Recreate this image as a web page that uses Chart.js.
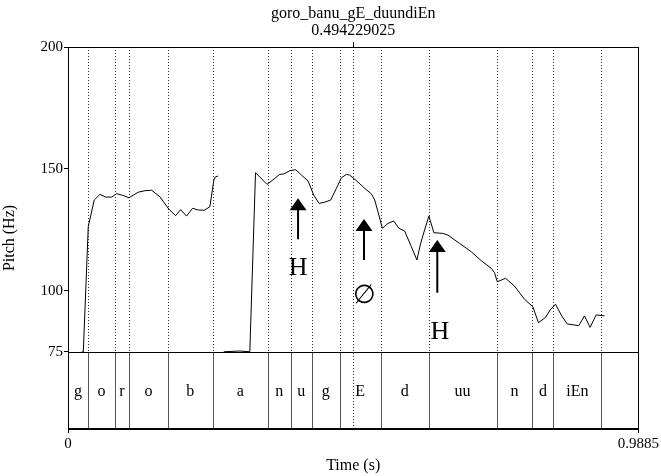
<!DOCTYPE html>
<html>
<head>
<meta charset="utf-8">
<script src="https://cdn.jsdelivr.net/npm/chart.js@4"></script>
<style>
  html, body { margin: 0; padding: 0; background: #fff; }
  #wrap { width: 661px; height: 476px; }
</style>
</head>
<body>
<div id="wrap"><canvas id="pitch"></canvas></div>
<script>
// Données
const fileName = 'goro_banu_gE_duundiEn';
const cursorTime = 0.494229025;
const timeMax = 0.9885;
const yTicks = [75, 100, 150, 200];

// courbe de F0 (null = coupure)
const pitchTime = [0.0237, 0.0265, 0.0351, 0.0455, 0.0554, 0.0653, 0.0757, 0.0843, 0.0947, 0.1056,
  0.1217, 0.1333, 0.1449, 0.1593, 0.1749, 0.1865, 0.1951, 0.2055, 0.2159, 0.2256, 0.2360, 0.2458,
  0.2528, 0.2557, 0.2602, 0.2650,
  0.2700, 0.2978, 0.3151, 0.3250, 0.3450, 0.3571, 0.3670, 0.3745, 0.3843, 0.3947, 0.4046, 0.4160,
  0.4259, 0.4351, 0.4449, 0.4553, 0.4652, 0.4738, 0.4825, 0.4882, 0.4998, 0.5142, 0.5258, 0.5315,
  0.5372, 0.5448, 0.5545, 0.5644, 0.5735, 0.5834, 0.5950, 0.6047, 0.6111, 0.6180, 0.6255, 0.6341,
  0.6497, 0.6584, 0.6786, 0.6989, 0.7162, 0.7335, 0.7392, 0.7439, 0.7583, 0.7739, 0.7912, 0.8055,
  0.8154, 0.8275, 0.8357, 0.8448, 0.8547, 0.8651, 0.8852, 0.8950, 0.9049, 0.9153, 0.9297];
const pitchHz = [75, 75, 126.4, 137.3, 139.6, 138.5, 138.5, 139.9, 139.2, 138.2,
  140.5, 141.1, 141.3, 138.6, 133.5, 130.9, 133.3, 130.7, 133.9, 133.2, 133.1, 134.5,
  145.5, 146.8, 147.1, null,
  75.1, 75.4, 75.1, 148.5, 143.7, 145.9, 147.8, 148.0, 149.3, 149.7, 147.5, 145.1,
  139.3, 135.9, 136.4, 137.3, 142.1, 146.4, 147.8, 147.5, 145.2, 142.1, 139.8, 137.3,
  132.5, 125.7, 127.7, 128.7, 125.7, 124.6, 118.2, 112.7, 119.5, 125.0, 130.7, 123.9,
  123.6, 122.9, 119.5, 116.1, 112.4, 109.3, 107.5, 103.8, 105.2, 102.0, 96.6, 93.6,
  87.0, 89.2, 92.2, 94.6, 90.2, 86.5, 85.8, 89.8, 85.1, 90.2, 89.8];

// tier des segments
const segBounds = [0.0346, 0.0814, 0.1056, 0.1731, 0.2510, 0.3462, 0.3860, 0.4224, 0.4709,
  0.5419, 0.6250, 0.7427, 0.8050, 0.8413, 0.9244];
const segLabels = ['g', 'o', 'r', 'o', 'b', 'a', 'n', 'u', 'g', 'E', 'd', 'uu', 'n', 'd', 'iEn', ''];

// flèches et tons
const arrowTime = [0.3987, 0.5130, 0.6400];
const arrowFrom = [121.2, 112.7, 99.3];
const arrowTo = [138.0, 129.5, 120.9];
const toneTime = [0.3987, 0.5147, 0.6446];
const toneHz = [109.4, 97.7, 83.1];
const toneLabel = ['H', '\u2205', 'H'];

const serif = '"Liberation Serif", "DejaVu Serif", serif';
const yMin = 43.44; // le tier occupe le bas du cadre

const praatPlugin = {
    id: 'praat',
    beforeDatasetsDraw(chart) {
        const c = chart.ctx, a = chart.chartArea;
        const x = chart.scales.x, y = chart.scales.y;
        const y75 = y.getPixelForValue(75);
        c.save();
        c.strokeStyle = '#333';
        c.lineWidth = 1;
        c.setLineDash([1, 2]);
        segBounds.forEach(function (t) {
            const px = Math.round(x.getPixelForValue(t)) + 0.5;
            c.beginPath(); c.moveTo(px, a.top); c.lineTo(px, y75); c.stroke();
        });
        // curseur
        const cx = Math.round(x.getPixelForValue(cursorTime)) + 0.5;
        c.beginPath(); c.moveTo(cx, a.top); c.lineTo(cx, a.bottom); c.stroke();
        c.restore();
    },
    afterDatasetsDraw(chart) {
        const c = chart.ctx, a = chart.chartArea;
        const x = chart.scales.x, y = chart.scales.y;
        const y75 = Math.round(y.getPixelForValue(75)) + 0.5;
        c.save();
        // tier
        c.strokeStyle = '#555';
        c.lineWidth = 1;
        segBounds.forEach(function (t) {
            const px = Math.round(x.getPixelForValue(t)) + 0.5;
            c.beginPath(); c.moveTo(px, y75); c.lineTo(px, a.bottom); c.stroke();
        });
        const edges = [0].concat(segBounds, [timeMax]);
        c.fillStyle = '#000';
        c.font = '16px ' + serif;
        c.textAlign = 'center';
        c.textBaseline = 'middle';
        const midY = (y75 + a.bottom) / 2 + 1;
        segLabels.forEach(function (lab, i) {
            const px = (x.getPixelForValue(edges[i]) + x.getPixelForValue(edges[i + 1])) / 2;
            c.fillText(lab, px, midY);
        });
        // cadre
        c.strokeStyle = '#000';
        c.lineWidth = 1;
        c.beginPath(); c.moveTo(a.left, y75); c.lineTo(a.right, y75); c.stroke();
        c.strokeRect(Math.round(a.left) + 0.5, Math.round(a.top) + 0.5,
            Math.round(a.right - a.left), Math.round(a.bottom - a.top));
        c.lineWidth = 2;
        c.beginPath(); c.moveTo(a.left, a.bottom); c.lineTo(a.right, a.bottom); c.stroke();
        // tic du curseur + titre
        const cx = Math.round(x.getPixelForValue(cursorTime)) + 0.5;
        c.lineWidth = 1;
        c.beginPath(); c.moveTo(cx, a.top - 5); c.lineTo(cx, a.top); c.stroke();
        c.font = '16px ' + serif;
        const tx = (a.left + a.right) / 2;
        c.fillText(fileName, tx, 14);
        c.fillText(String(cursorTime), tx, 31);
        // flèches
        arrowTime.forEach(function (t, i) {
            const px = x.getPixelForValue(t);
            const yb = y.getPixelForValue(arrowFrom[i]);
            const yt = y.getPixelForValue(arrowTo[i]);
            c.lineWidth = 2;
            c.beginPath(); c.moveTo(px, yb); c.lineTo(px, yt + 10); c.stroke();
            c.beginPath();
            c.moveTo(px, yt); c.lineTo(px - 8.5, yt + 12); c.lineTo(px + 8.5, yt + 12);
            c.closePath(); c.fill();
        });
        c.font = '26px ' + serif;
        toneLabel.forEach(function (lab, i) {
            c.fillText(lab, x.getPixelForValue(toneTime[i]), y.getPixelForValue(toneHz[i]));
        });
        c.restore();
    }
};

const pts = pitchTime.map(function (t, i) { return { x: t, y: pitchHz[i] }; });

new Chart(document.getElementById('pitch'), {
    type: 'line',
    data: {
        datasets: [{
            data: pts,
            borderColor: '#000',
            borderWidth: 1,
            pointRadius: 0,
            tension: 0,
            spanGaps: false
        }]
    },
    options: {
        responsive: true,
        maintainAspectRatio: false,
        animation: false,
        events: [],
        layout: { padding: { top: 47, right: 22, left: 0, bottom: 0 } },
        plugins: { legend: { display: false }, tooltip: { enabled: false }, title: { display: false } },
        scales: {
            x: {
                type: 'linear',
                min: 0,
                max: timeMax,
                afterBuildTicks: function (s) { s.ticks = [{ value: 0 }, { value: timeMax }]; },
                afterFit: function (s) { s.height = 47; },
                ticks: {
                    color: '#000',
                    font: { family: serif, size: 15 },
                    padding: 2,
                    maxRotation: 0,
                    callback: function (v) { return v === 0 ? '0' : String(timeMax); }
                },
                grid: { drawOnChartArea: false, tickLength: 4, color: '#000' },
                border: { display: false },
                title: {
                    display: true,
                    text: 'Time (s)',
                    color: '#000',
                    font: { family: serif, size: 16 },
                    padding: { top: 0, bottom: 1 }
                }
            },
            y: {
                min: yMin,
                max: 200,
                afterBuildTicks: function (s) { s.ticks = yTicks.map(function (v) { return { value: v }; }); },
                afterFit: function (s) { s.width = 68; },
                ticks: {
                    color: '#000',
                    font: { family: serif, size: 15 },
                    padding: 1
                },
                grid: { drawOnChartArea: false, tickLength: 4, color: '#000' },
                border: { display: false },
                title: {
                    display: true,
                    text: 'Pitch (Hz)',
                    color: '#000',
                    font: { family: serif, size: 16 },
                    padding: { top: 0, bottom: 2 }
                }
            }
        }
    },
    plugins: [praatPlugin]
});
</script>
</body>
</html>
